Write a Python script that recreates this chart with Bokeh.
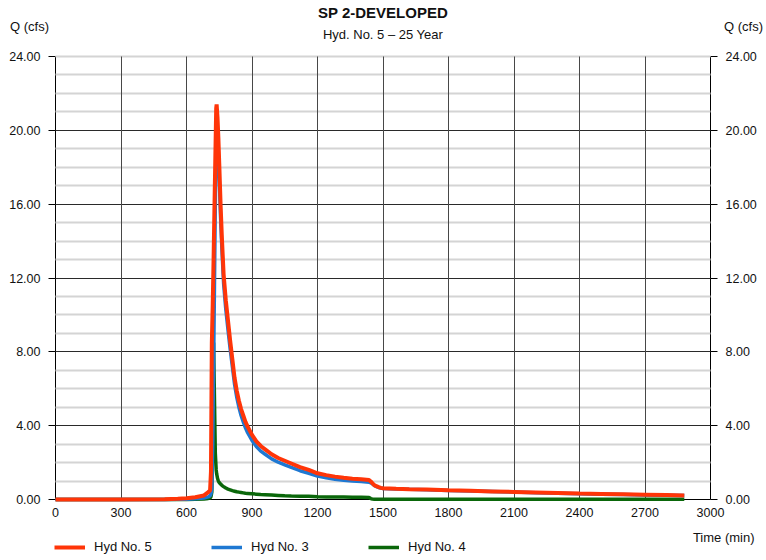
from bokeh.plotting import figure
from bokeh.models import (Range1d, LinearAxis, FixedTicker, Label, Legend,
                          LegendItem, NumeralTickFormatter, ColumnDataSource)
from bokeh.embed import file_html
from bokeh.resources import INLINE

# ---------------- data ----------------
time_min = [0, 300, 500, 560, 600, 640, 680, 700, 708, 712, 716, 720, 724, 728,
            732, 736, 738, 742, 746, 750, 756, 762, 770, 780, 790, 800, 810, 820,
            830, 840, 850, 860, 870, 880, 900, 920, 940, 960, 990, 1020, 1050,
            1080, 1120, 1160, 1200, 1240, 1280, 1320, 1360, 1400, 1436, 1444,
            1452, 1460, 1470, 1480, 1490, 1500, 1560, 1620, 1700, 1800, 1900,
            2000, 2100, 2200, 2300, 2400, 2500, 2600, 2700, 2800, 2880]

hyd5 = [0, 0, 0.01, 0.04, 0.07, 0.12, 0.22, 0.40, 0.50, 1.5, 8.5, 10.5, 13.0, 15.8,
        18.5, 21.2, 21.4, 20.7, 19.6, 18.2, 16.0, 14.2, 12.2, 10.8, 9.7, 8.6, 7.6, 6.6,
        5.9, 5.35, 4.9, 4.55, 4.2, 3.95, 3.5, 3.15, 2.9, 2.72, 2.45, 2.25, 2.1,
        1.95, 1.75, 1.6, 1.42, 1.32, 1.24, 1.18, 1.13, 1.1, 1.06, 0.98,
        0.88, 0.78, 0.72, 0.67, 0.63, 0.61, 0.58, 0.56, 0.54, 0.50, 0.47,
        0.44, 0.41, 0.38, 0.35, 0.32, 0.30, 0.28, 0.26, 0.24, 0.22]

hyd3 = [0, 0, 0, 0.01, 0.02, 0.04, 0.08, 0.14, 0.2, 0.3, 0.6, 3.0, 7.0, 11.5,
        16.0, 19.2, 19.7, 19.3, 18.6, 17.4, 15.3, 13.6, 11.7, 10.3, 9.2, 8.15, 7.2, 6.25,
        5.55, 5.0, 4.55, 4.2, 3.88, 3.62, 3.2, 2.87, 2.62, 2.45, 2.2, 2.02, 1.88,
        1.74, 1.56, 1.42, 1.27, 1.18, 1.1, 1.04, 1.0, 0.97, 0.94, 0.9,
        0.84, 0.76, 0.70, 0.65, 0.62, 0.60, 0.57, 0.55, 0.53, 0.49, 0.46,
        0.43, 0.40, 0.37, 0.34, 0.31, 0.29, 0.27, 0.25, 0.23, 0.21]

hyd4 = [0, 0, 0, 0, 0, 0.01, 0.03, 0.06, 0.08, 0.15, 0.4, 3.5, 8.5, 5.5,
        2.5, 1.6, 1.4, 1.15, 1.0, 0.92, 0.84, 0.77, 0.70, 0.62, 0.56, 0.52, 0.48, 0.45,
        0.42, 0.40, 0.38, 0.36, 0.34, 0.33, 0.31, 0.29, 0.27, 0.26, 0.24, 0.22, 0.20,
        0.19, 0.18, 0.17, 0.15, 0.14, 0.13, 0.13, 0.12, 0.12, 0.11, 0.05,
        0.02, 0.01, 0.01, 0.01, 0.01, 0.01, 0.01, 0.01, 0.01, 0.01, 0.01,
        0.01, 0.01, 0.01, 0.01, 0.01, 0.01, 0.01, 0.01, 0.01, 0.01]

x_ticks = [0, 300, 600, 900, 1200, 1500, 1800, 2100, 2400, 2700, 3000]
x_grid = [300, 600, 900, 1200, 1500, 1800, 2100, 2400, 2700]
y_ticks = [0, 4, 8, 12, 16, 20, 24]
y_major_grid = [4, 8, 12, 16, 20]
y_minor_grid = [1, 2, 3, 5, 6, 7, 9, 10, 11, 13, 14, 15, 17, 18, 19, 21, 22, 23, 24]

series_names = ["Hyd No. 5", "Hyd No. 3", "Hyd No. 4"]
series_colors = ["#ff3508", "#1e78d2", "#0a670a"]

title_text = "SP 2-DEVELOPED"
subtitle_text = "Hyd. No. 5 \u2013 25 Year"
y_label_text = "Q (cfs)"
x_label_text = "Time (min)"

FONT = "Liberation Sans"

# ---------------- layout: plot area 0..3000 x 0..24 maps to px 55..710 x 499..56
W, H = 766, 560
X0, X1, XMAX = 55, 710, 3000
Y0, Y1, YMAX = 499, 56, 24
sx = (X1 - X0) / XMAX
sy = (Y0 - Y1) / YMAX
x_lo, x_hi = -X0 / sx, XMAX + (W - X1) / sx
y_lo, y_hi = -(H - Y0) / sy, YMAX + Y1 / sy

def dx(px):
    return (px - X0) / sx

def dy(py):
    return YMAX + (Y1 - py) / sy

p = figure(width=W, height=H,
           x_range=Range1d(x_lo, x_hi), y_range=Range1d(y_lo, y_hi),
           output_backend="svg", toolbar_location=None,
           min_border=0, min_border_left=0, min_border_right=0,
           min_border_top=0, min_border_bottom=0)
p.title.visible = False
p.outline_line_color = None
p.background_fill_color = "white"
p.border_fill_color = "white"

# axes at fixed locations
p.xaxis.fixed_location = 0
p.xaxis.bounds = (0, XMAX)
p.xaxis.ticker = FixedTicker(ticks=x_ticks)
p.xaxis.major_tick_out = 0
p.xaxis.major_tick_in = 0
p.xaxis.minor_tick_out = 0
p.xaxis.minor_tick_in = 0
p.xaxis.major_label_standoff = 8

p.yaxis.fixed_location = 0
p.yaxis.bounds = (0, YMAX)
p.yaxis.ticker = FixedTicker(ticks=y_ticks)
p.yaxis.formatter = NumeralTickFormatter(format="0.00")
p.yaxis.major_tick_out = 7
p.yaxis.major_tick_in = 0
p.yaxis.minor_tick_out = 0
p.yaxis.minor_tick_in = 0
p.yaxis.major_label_standoff = 8

ry = LinearAxis(fixed_location=XMAX, bounds=(0, YMAX),
                ticker=FixedTicker(ticks=y_ticks),
                formatter=NumeralTickFormatter(format="0.00"),
                major_tick_out=7, major_tick_in=0,
                minor_tick_out=0, minor_tick_in=0,
                major_label_standoff=8)
p.add_layout(ry, "right")

for ax in [p.xaxis[0], p.yaxis[0], ry]:
    ax.axis_line_color = "black"
    ax.axis_line_width = 1
    ax.major_tick_line_color = "black"
    ax.major_label_text_font = FONT
    ax.major_label_text_font_size = "12.5px"
    ax.major_label_text_color = "#111111"
    ax.level = "underlay"

# grids
xg = p.xgrid[0]
yg = p.ygrid[0]
xg.ticker = FixedTicker(ticks=x_grid)
xg.cross_bounds = (0, YMAX)
xg.grid_line_color = "#474747"
xg.grid_line_width = 1
yg.ticker = FixedTicker(ticks=y_major_grid, minor_ticks=y_minor_grid)
yg.cross_bounds = (0, XMAX)
yg.grid_line_color = "#2a2a2a"
yg.grid_line_width = 1
yg.minor_grid_line_color = "#d4d4d4"
yg.minor_grid_line_width = 2
p.center = [yg, xg]

# lines (green, blue, then red on top)
src = ColumnDataSource(dict(t=time_min, h5=hyd5, h3=hyd3, h4=hyd4))
r4 = p.line("t", "h4", source=src, color=series_colors[2], line_width=3.5)
r3 = p.line("t", "h3", source=src, color=series_colors[1], line_width=3.5)
r5 = p.line("t", "h5", source=src, color=series_colors[0], line_width=4)

legend = Legend(items=[LegendItem(label=series_names[0], renderers=[r5]),
                       LegendItem(label=series_names[1], renderers=[r3]),
                       LegendItem(label=series_names[2], renderers=[r4])],
                orientation="horizontal", location=(54, 6),
                glyph_width=31, glyph_height=14, label_height=14,
                label_width=117, label_standoff=9, spacing=0,
                padding=0, margin=0,
                border_line_color=None, background_fill_alpha=0,
                label_text_font=FONT, label_text_font_size="13px",
                label_text_color="#111111")
p.add_layout(legend, "center")

# texts
def add_text(px, py, txt, size, align="center", bold=False):
    p.add_layout(Label(x=dx(px), y=dy(py), text=txt,
                       text_align=align, text_baseline="middle", text_font=FONT,
                       text_font_size=size,
                       text_font_style="bold" if bold else "normal",
                       text_color="#111111"))

add_text(382.5, 12, title_text, "15px", bold=True)
add_text(382.5, 34, subtitle_text, "13px")
add_text(29, 26, y_label_text, "13px")
add_text(743, 26, y_label_text, "13px")
add_text(754, 537, x_label_text, "13px", align="right")

open("out.html", "w").write(file_html(p, INLINE))
